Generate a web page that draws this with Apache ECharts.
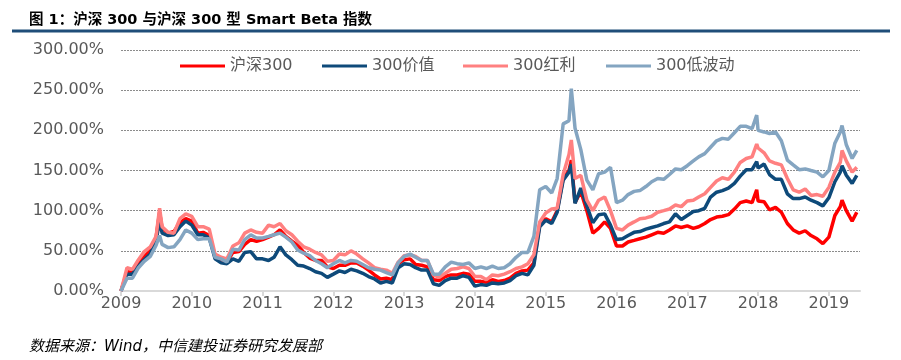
<!DOCTYPE html>
<html>
<head>
<meta charset="utf-8">
<script src="https://cdn.jsdelivr.net/npm/echarts@6/dist/echarts.min.js"></script>
<style>
html,body{margin:0;padding:0;background:#fff;}
#c{width:901px;height:360px;}
</style>
</head>
<body>
<div id="c"></div>
<script>
// ---- data ----
const titleText = '图 1：沪深 300 与沪深 300 型 Smart Beta 指数';
const sourceText = '数据来源：Wind，中信建投证券研究发展部';
const seriesNames = ['沪深300', '300价值', '300红利', '300低波动'];
const yearTicks = [2009, 2010, 2011, 2012, 2013, 2014, 2015, 2016, 2017, 2018, 2019];
const yTicks = [0, 50, 100, 150, 200, 250, 300];

const dates = [
  '2009-01-01','2009-02-01','2009-03-01','2009-04-01','2009-05-01','2009-06-01','2009-07-01','2009-07-19','2009-08-01','2009-09-01','2009-10-01','2009-11-01','2009-12-01',
  '2010-01-01','2010-02-01','2010-03-01','2010-04-01','2010-05-01','2010-06-01','2010-07-01','2010-08-01','2010-09-01','2010-10-01','2010-11-01','2010-12-01',
  '2011-01-01','2011-02-01','2011-03-01','2011-04-01','2011-05-01','2011-06-01','2011-07-01','2011-08-01','2011-09-01','2011-10-01','2011-11-01','2011-12-01',
  '2012-01-01','2012-02-01','2012-03-01','2012-04-01','2012-05-01','2012-06-01','2012-07-01','2012-08-01','2012-09-01','2012-10-01','2012-11-01','2012-12-01',
  '2013-01-01','2013-02-01','2013-03-01','2013-04-01','2013-05-01','2013-06-01','2013-07-01','2013-08-01','2013-09-01','2013-10-01','2013-11-01','2013-12-01',
  '2014-01-01','2014-02-01','2014-03-01','2014-04-01','2014-05-01','2014-06-01','2014-07-01','2014-08-01','2014-09-01','2014-10-01','2014-11-01','2014-12-01',
  '2015-01-01','2015-02-01','2015-03-01','2015-04-01','2015-05-01','2015-05-13','2015-06-01','2015-07-01','2015-08-01','2015-09-01','2015-10-01','2015-11-01','2015-12-01',
  '2016-01-01','2016-02-01','2016-03-01','2016-04-01','2016-05-01','2016-06-01','2016-07-01','2016-08-01','2016-09-01','2016-10-01','2016-11-01','2016-12-01',
  '2017-01-01','2017-02-01','2017-03-01','2017-04-01','2017-05-01','2017-06-01','2017-07-01','2017-08-01','2017-09-01','2017-10-01','2017-11-01','2017-12-01','2017-12-25',
  '2018-01-01','2018-02-01','2018-03-01','2018-04-01','2018-05-01','2018-06-01','2018-07-01','2018-08-01','2018-09-01','2018-10-01','2018-11-01','2018-12-01',
  '2019-01-01','2019-02-01','2019-03-01','2019-03-10','2019-04-01','2019-05-01','2019-05-25'
];

const hs300 = [
  0,24,23,34,43,50,67,98,78,72,74,85,90,
  87,72,73,69,44,39,36,48,49,58,64,62,
  64,67,70,76,68,62,57,48,41,38,38,30,
  28,32,32,35,35,31,26,20,15,16,14,34,
  39,40,33,32,30,14,13,18,20,20,22,21,
  12,12,11,14,12,13,16,22,25,26,35,83,
  90,86,100,140,150,163,110,124,100,72,78,86,78,
  56,56,61,63,65,67,70,73,72,76,81,79,
  81,78,80,84,89,92,93,95,102,110,112,110,126,
  112,111,101,104,98,84,76,72,75,69,65,59,
  67,94,105,113,100,87,98
];
const value300 = [
  0,21,21,31,39,46,62,88,72,69,70,80,87,
  82,70,70,66,40,35,34,40,37,48,49,40,
  40,38,42,55,45,39,32,31,28,24,22,17,
  21,25,23,27,25,22,18,15,10,12,10,29,
  34,33,29,26,26,9,7,13,16,16,19,17,
  6,8,7,10,9,10,13,19,22,20,32,80,
  88,84,98,138,148,158,109,128,106,85,95,96,82,
  64,65,69,73,74,77,79,81,84,86,96,89,
  94,99,100,103,117,123,125,128,134,143,151,151,161,
  153,158,145,139,139,121,115,115,117,113,110,106,
  116,136,148,156,144,134,144
];
const dividend300 = [
  0,29,27,39,49,55,68,103,80,73,72,90,96,
  93,80,80,77,46,42,40,56,60,72,76,73,
  72,82,80,84,75,70,62,55,52,48,45,37,
  38,46,45,50,46,40,35,29,27,26,22,36,
  44,45,43,38,38,20,17,22,27,28,30,28,
  18,18,14,20,19,21,24,28,30,34,45,86,
  97,102,103,145,170,188,140,144,113,100,113,117,100,
  78,76,82,86,90,91,93,98,100,102,107,105,
  112,113,117,121,129,137,141,139,148,160,165,167,183,
  178,172,162,159,157,140,126,123,127,119,120,118,
  129,148,160,175,162,148,154
];
const lowvol300 = [
  0,16,16,29,37,43,57,69,58,54,55,64,76,
  72,64,65,65,42,40,36,52,51,64,70,66,
  66,68,70,72,67,61,51,47,44,38,34,29,
  34,38,35,38,37,33,29,27,26,23,20,35,
  43,46,42,38,38,21,21,30,36,34,33,35,
  28,30,28,31,28,29,34,42,48,48,68,126,
  130,122,140,208,212,252,203,176,138,126,146,148,154,
  110,113,120,124,125,130,136,140,139,145,152,151,
  156,162,167,171,179,187,190,189,197,205,205,202,219,
  200,198,196,198,187,163,157,151,152,150,148,142,
  150,184,198,206,182,165,175
];
const colors = ['#FF0000', '#0E4A7A', '#FF8080', '#84A5C1'];

// ---- build ----
function toYear(s) {
  const p = s.split('-').map(Number);
  const t = Date.UTC(p[0], p[1] - 1, p[2]);
  const a = Date.UTC(p[0], 0, 1), b = Date.UTC(p[0] + 1, 0, 1);
  return p[0] + (t - a) / (b - a);
}
const xs = dates.map(toYear);
const allValues = [hs300, value300, dividend300, lowvol300];

const FONT = "'DejaVu Sans', 'Noto Sans CJK SC', sans-serif";
const chart = echarts.init(document.getElementById('c'), null, {renderer: 'canvas'});

const legendLefts = [175, 317, 458, 601];

chart.setOption({
  animation: false,
  backgroundColor: '#ffffff',
  title: [
    {text: titleText, left: 24, top: 8,
     textStyle: {fontSize: 14.5, fontWeight: 'bold', color: '#000', fontFamily: FONT}},
    {text: sourceText, left: 24, top: 335,
     textStyle: {fontSize: 15, fontStyle: 'italic', fontWeight: 'normal', color: '#000', fontFamily: FONT}}
  ],
  graphic: [{
    type: 'line', shape: {x1: 12, y1: 31, x2: 890, y2: 31},
    style: {stroke: '#1F4E79', lineWidth: 3}, silent: true
  }],
  legend: seriesNames.map((n, i) => ({
    data: [{name: n, icon: 'rect'}], left: legendLefts[i], top: 53,
    itemWidth: 45, itemHeight: 3, itemGap: 0,
    textStyle: {fontSize: 16, color: '#595959', fontFamily: FONT}
  })),
  grid: {left: 121, right: 41, top: 50, bottom: 69, containLabel: false},
  xAxis: {
    type: 'value', min: yearTicks[0], max: 2019.44,
    axisLine: {show: true, lineStyle: {color: '#D9D9D9', width: 2}},
    axisTick: {show: true, length: 5, customValues: yearTicks, lineStyle: {color: '#D9D9D9', width: 2}},
    axisLabel: {customValues: yearTicks, margin: 5, fontSize: 16, color: '#595959', fontFamily: FONT,
      formatter: v => String(Math.round(v))},
    splitLine: {show: false}
  },
  yAxis: {
    type: 'value', min: yTicks[0], max: yTicks[yTicks.length - 1], interval: 50,
    axisLine: {show: false}, axisTick: {show: false},
    axisLabel: {margin: 17, fontSize: 16, color: '#595959', fontFamily: FONT,
      formatter: v => v.toFixed(2) + '%'},
    splitLine: {show: true, lineStyle: {color: '#8C8C8C', type: [2, 1], width: 1}}
  },
  series: seriesNames.map((n, i) => ({
    name: n, type: 'line', symbol: 'none', showSymbol: false,
    data: xs.map((x, j) => [x, allValues[i][j]]),
    lineStyle: {color: colors[i], width: 3.5},
    itemStyle: {color: colors[i]},
    z: 2 + i
  }))
});
</script>
</body>
</html>
